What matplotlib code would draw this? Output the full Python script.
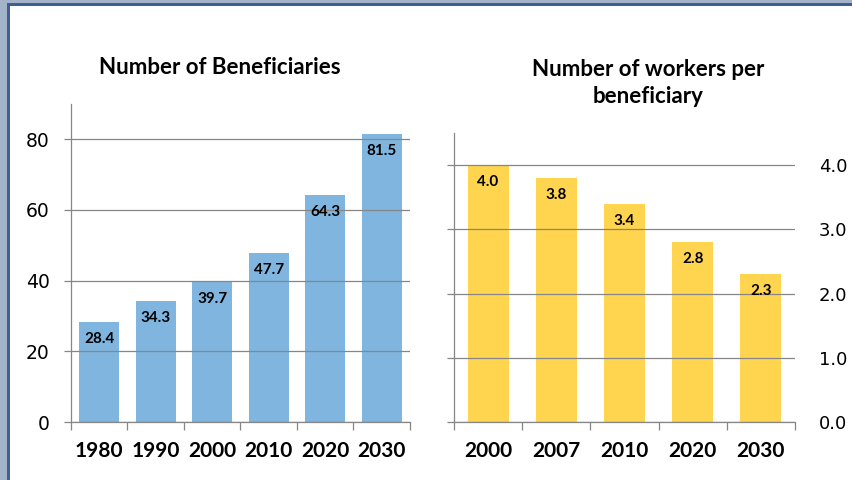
import matplotlib
matplotlib.use("Agg")
import matplotlib.pyplot as plt
from matplotlib.patches import Rectangle
import numpy as np

# data
ben_years = ["1980", "1990", "2000", "2010", "2020", "2030"]
ben_values = [28.4, 34.3, 39.7, 47.7, 64.3, 81.5]

wrk_years = ["2000", "2007", "2010", "2020", "2030"]
wrk_values = [4.0, 3.8, 3.4, 2.8, 2.3]

blue = "#7fb5df"
yellow = "#ffd44f"
grey = "#868686"
title_font = "Lato"

W, H = 853, 480
fig = plt.figure(figsize=(W / 100, H / 100), dpi=100)
fig.patch.set_facecolor("white")

# window frame (left and top edges)
fig.patches.append(Rectangle((0, 0), 7 / W, 1, transform=fig.transFigure,
                             facecolor="#a3b3c9", edgecolor="none", zorder=0))
fig.patches.append(Rectangle((7 / W, 0), 2.5 / W, 1, transform=fig.transFigure,
                             facecolor="#3d5f93", edgecolor="none", zorder=0))
fig.patches.append(Rectangle((0, 1 - 3 / H), 1, 3 / H, transform=fig.transFigure,
                             facecolor="#a3b3c9", edgecolor="none", zorder=0))
fig.patches.append(Rectangle((7 / W, 1 - 5.5 / H), 1, 2.5 / H, transform=fig.transFigure,
                             facecolor="#3d5f93", edgecolor="none", zorder=0))


def px_box(x0, x1, ytop, ybot):
    return [x0 / W, 1 - ybot / H, (x1 - x0) / W, (ybot - ytop) / H]


def style_axes(ax, n):
    ax.set_axisbelow(False)
    ax.grid(axis="y", color=grey, linewidth=0.9)
    for s in ["top", "right"]:
        ax.spines[s].set_visible(False)
    for s in ["left", "bottom"]:
        ax.spines[s].set_color(grey)
        ax.spines[s].set_linewidth(0.9)
    ax.set_xlim(-0.5, n - 0.5)
    ax.set_xticks(np.arange(-0.5, n, 1.0), minor=True)
    ax.tick_params(axis="x", which="minor", length=5.5, color=grey, width=0.9)
    ax.tick_params(axis="x", which="major", length=0, pad=14)
    for lab in ax.get_xticklabels():
        lab.set_fontfamily(title_font)
        lab.set_fontweight("bold")
        lab.set_fontsize(15)


def label_bars(ax, xs, vals, fmt):
    for x, v in zip(xs, vals):
        ax.annotate(fmt.format(v), (x, v), xytext=(0, -17), textcoords="offset pixels",
                    ha="center", va="center", fontsize=11, fontweight="bold",
                    family=title_font, color="black", zorder=4)


# left chart
ax1 = fig.add_axes(px_box(71, 410, 104, 422))
x1 = np.arange(len(ben_years))
ax1.bar(x1, ben_values, width=0.71, color=blue, zorder=1)
ax1.set_ylim(0, 90)
ax1.set_yticks([0, 20, 40, 60, 80])
ax1.set_xticks(x1)
ax1.set_xticklabels(ben_years)
style_axes(ax1, len(ben_years))
ax1.tick_params(axis="y", length=5, color=grey, width=0.9, pad=10.5,
                labelsize=13.5)
label_bars(ax1, x1, ben_values, "{:.1f}")

# right chart
ax2 = fig.add_axes(px_box(454, 795, 133, 422))
x2 = np.arange(len(wrk_years))
ax2.bar(x2, wrk_values, width=0.6, color=yellow, zorder=1)
ax2.set_ylim(0, 4.5)
ax2.set_yticks([0, 1, 2, 3, 4])
ax2.set_yticklabels(["{:.1f}".format(v) for v in [0, 1, 2, 3, 4]])
ax2.set_xticks(x2)
ax2.set_xticklabels(wrk_years)
style_axes(ax2, len(wrk_years))
ax2.tick_params(axis="y", left=True, right=False, labelleft=False, labelright=True,
                length=5, color=grey, width=0.9, pad=12, labelsize=13)
label_bars(ax2, x2, wrk_values, "{:.1f}")

# titles
fig.text(220 / W, 1 - 68 / H, "Number of Beneficiaries", ha="center", va="center",
         fontsize=16, fontweight="bold", family=title_font)
fig.text(648 / W, 1 - 83 / H, "Number of workers per\nbeneficiary", ha="center",
         va="center", fontsize=16, fontweight="bold", family=title_font,
         linespacing=1.4)

fig.savefig("out.png", dpi=100)
